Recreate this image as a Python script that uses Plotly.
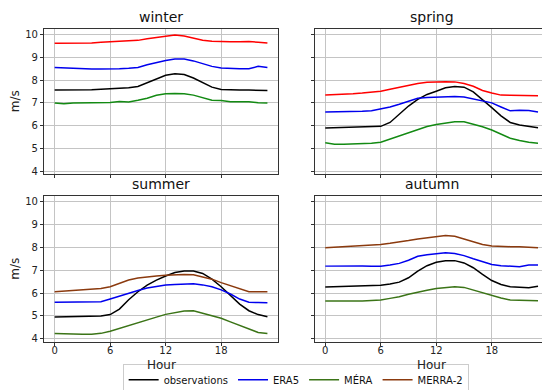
import plotly.graph_objects as go

hours = list(range(24))
seasons = ["winter", "spring", "summer", "autumn"]
series_names = ["observations", "ERA5", "MÉRA", "MERRA-2"]

winter_obs = [7.56,7.56,7.56,7.57,7.58,7.6,7.62,7.64,7.66,7.72,7.88,8.06,8.21,8.28,8.24,8.09,7.88,7.69,7.59,7.56,7.56,7.56,7.56,7.54]
winter_era5 = [8.55,8.53,8.5,8.48,8.48,8.48,8.48,8.5,8.52,8.55,8.67,8.77,8.86,8.92,8.92,8.84,8.73,8.6,8.53,8.5,8.5,8.5,8.6,8.55]
winter_mera = [6.99,6.96,6.99,6.99,6.99,6.99,7.02,7.06,7.04,7.11,7.2,7.33,7.4,7.41,7.4,7.34,7.23,7.12,7.1,7.05,7.05,7.05,7.0,6.99]
winter_merra2 = [9.61,9.61,9.61,9.61,9.63,9.66,9.68,9.7,9.72,9.74,9.81,9.87,9.94,9.98,9.93,9.83,9.75,9.7,9.68,9.68,9.68,9.69,9.66,9.62]

spring_obs = [5.9,5.91,5.92,5.92,5.94,5.96,5.97,6.14,6.5,6.86,7.15,7.37,7.51,7.66,7.72,7.69,7.48,7.15,6.79,6.43,6.14,6.03,5.97,5.91]
spring_era5 = [6.6,6.6,6.61,6.62,6.63,6.65,6.72,6.82,6.94,7.06,7.2,7.23,7.25,7.27,7.28,7.26,7.17,7.09,7.0,6.82,6.65,6.68,6.66,6.6]
spring_mera = [5.25,5.19,5.19,5.2,5.21,5.23,5.27,5.41,5.56,5.7,5.85,5.96,6.05,6.11,6.17,6.17,6.07,5.95,5.81,5.63,5.45,5.35,5.27,5.23]
spring_merra2 = [7.34,7.35,7.37,7.4,7.43,7.47,7.51,7.6,7.69,7.77,7.85,7.9,7.93,7.93,7.92,7.85,7.73,7.54,7.43,7.34,7.33,7.33,7.32,7.31]

summer_obs = [4.96,4.97,4.98,4.99,5.0,5.0,5.06,5.3,5.71,6.06,6.35,6.57,6.75,6.9,6.97,6.97,6.86,6.61,6.28,5.88,5.52,5.23,5.06,4.97]
summer_era5 = [5.6,5.6,5.61,5.61,5.62,5.62,5.74,5.87,6.0,6.11,6.22,6.29,6.35,6.38,6.41,6.41,6.36,6.28,6.14,5.96,5.74,5.6,5.59,5.58]
summer_mera = [4.23,4.21,4.2,4.2,4.2,4.24,4.33,4.46,4.58,4.71,4.83,4.95,5.07,5.15,5.22,5.23,5.13,5.02,4.9,4.74,4.58,4.41,4.28,4.23]
summer_merra2 = [6.06,6.09,6.11,6.14,6.17,6.2,6.28,6.43,6.57,6.66,6.72,6.75,6.78,6.8,6.81,6.8,6.72,6.61,6.46,6.32,6.19,6.06,6.06,6.06]

autumn_obs = [6.27,6.28,6.3,6.31,6.33,6.35,6.34,6.4,6.48,6.67,6.96,7.2,7.35,7.42,7.42,7.32,7.11,6.82,6.55,6.38,6.28,6.26,6.24,6.3]
autumn_era5 = [7.18,7.19,7.19,7.2,7.19,7.18,7.18,7.23,7.3,7.44,7.61,7.68,7.73,7.76,7.73,7.64,7.5,7.36,7.25,7.2,7.18,7.15,7.23,7.23]
autumn_mera = [5.66,5.65,5.65,5.65,5.66,5.68,5.7,5.77,5.84,5.95,6.05,6.13,6.2,6.25,6.28,6.25,6.13,6.01,5.9,5.79,5.7,5.68,5.67,5.67]
autumn_merra2 = [7.98,8.0,8.03,8.06,8.08,8.11,8.13,8.18,8.23,8.3,8.37,8.43,8.49,8.52,8.49,8.37,8.24,8.13,8.06,8.03,8.03,8.03,8.01,7.98]

data = {
    "winter": [winter_obs, winter_era5, winter_mera, winter_merra2],
    "spring": [spring_obs, spring_era5, spring_mera, spring_merra2],
    "summer": [summer_obs, summer_era5, summer_mera, summer_merra2],
    "autumn": [autumn_obs, autumn_era5, autumn_mera, autumn_merra2],
}

y_ticks = [4, 5, 6, 7, 8, 9, 10]
x_ticks = [0, 6, 12, 18]

top_colors = ["#000000", "#0000ee", "#138a13", "#ff0000"]
bottom_colors = ["#000000", "#0000ee", "#3b7417", "#8b3a0e"]

FONT = "DejaVu Sans"
fig = go.Figure()

domains_x = {"winter": [0.0655, 0.491], "spring": [0.5575, 0.983],
             "summer": [0.0655, 0.491], "autumn": [0.5575, 0.983]}
domains_y = {"winter": [0.571, 0.947], "spring": [0.571, 0.947],
             "summer": [0.138, 0.515], "autumn": [0.138, 0.515]}

layout = {}
for i, s in enumerate(seasons):
    n = i + 1
    xa = "x" if n == 1 else f"x{n}"
    ya = "y" if n == 1 else f"y{n}"
    colors = top_colors if i < 2 else bottom_colors
    for j, name in enumerate(series_names):
        fig.add_trace(go.Scatter(
            x=hours, y=data[s][j], mode="lines", name=name,
            line=dict(color=colors[j], width=1.5),
            xaxis=xa, yaxis=ya,
            showlegend=(s == "summer"), legendrank=j + 1,
        ))
    bottom = i >= 2
    left = i % 2 == 0
    layout[f"xaxis{n if n > 1 else ''}"] = dict(
        domain=domains_x[s], range=[-1.15, 24.15], tickvals=x_ticks,
        showticklabels=bottom, ticks="outside", ticklen=3, tickcolor="#333",
        ticklabelstandoff=-4,
        showgrid=True, gridcolor="#c4c4c4", gridwidth=1,
        showline=True, linecolor="#333", linewidth=1.2, mirror=True,
        zeroline=False, anchor=ya,
        tickfont=dict(family=FONT, size=10, color="#222"),
    )
    layout[f"yaxis{n if n > 1 else ''}"] = dict(
        domain=domains_y[s], range=[3.88, 10.26], tickvals=y_ticks,
        showticklabels=left, ticks="outside", ticklen=3, tickcolor="#333",
        showgrid=True, gridcolor="#c4c4c4", gridwidth=1,
        showline=True, linecolor="#333", linewidth=1.2, mirror=True,
        zeroline=False, anchor=xa,
        tickfont=dict(family=FONT, size=10, color="#222"),
        title=dict(text="m/s" if left else "", font=dict(family=FONT, size=12, color="#222"), standoff=6),
    )

annotations = []
for i, s in enumerate(seasons):
    dx = domains_x[s]
    dy = domains_y[s]
    annotations.append(dict(
        text=s, x=(dx[0] + dx[1]) / 2, y=dy[1], xref="paper", yref="paper",
        xanchor="center", yanchor="bottom", yshift=2, showarrow=False,
        font=dict(family=FONT, size=14, color="#111"),
    ))
    if i >= 2:
        annotations.append(dict(
            text="Hour", x=(dx[0] + dx[1]) / 2, y=dy[0], xref="paper", yref="paper",
            xanchor="center", yanchor="top", yshift=-14, showarrow=False,
            font=dict(family=FONT, size=12, color="#222"),
        ))

fig.update_layout(
    width=550, height=390,
    margin=dict(l=0, r=0, t=0, b=0),
    paper_bgcolor="white", plot_bgcolor="white",
    annotations=annotations,
    legend=dict(
        orientation="h", x=0.523, y=1 - 359 / 390, xanchor="center", yanchor="top",
        font=dict(family=FONT, size=10, color="#111"),
        bordercolor="#cccccc", borderwidth=1, bgcolor="white",
        itemwidth=30, tracegroupgap=0,
    ),
    **layout,
)

fig.write_html("out.html")
